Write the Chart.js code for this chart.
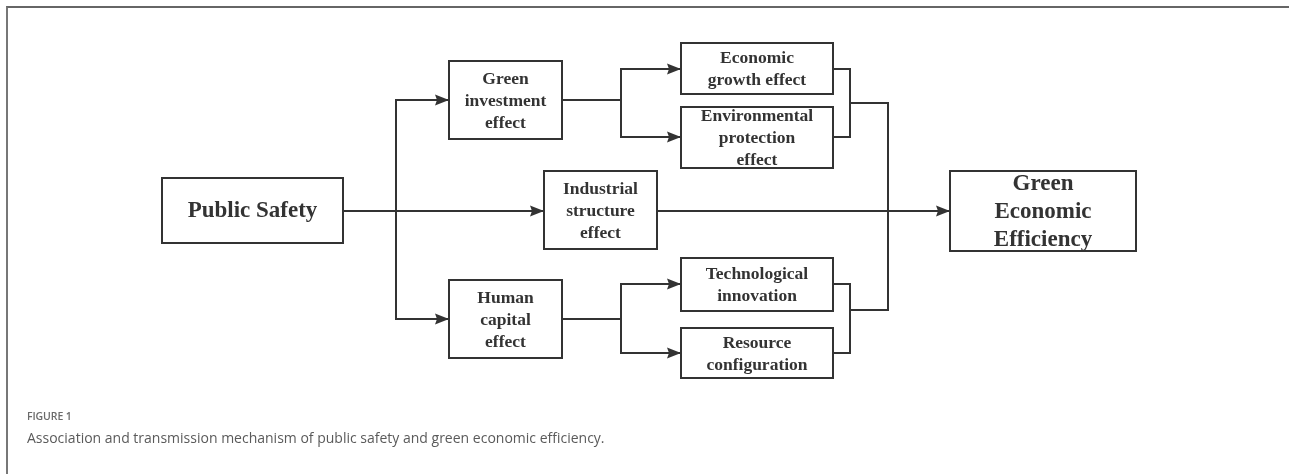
<!DOCTYPE html>
<html>
<head>
<meta charset="utf-8">
<script src="https://cdn.jsdelivr.net/npm/chart.js@4/dist/chart.umd.min.js"></script>
<style>
  html,body{margin:0;padding:0;background:#fff;}
  body{width:1289px;height:474px;position:relative;overflow:hidden;}
  #frame{position:absolute;left:6px;top:6px;right:-2px;bottom:-2px;border-top:2px solid #666;border-left:2px solid #777;}
  #c{position:absolute;left:0;top:0;}
  #fig{position:absolute;left:27px;top:409px;font-family:"Open Sans",sans-serif;font-size:10.5px;font-weight:600;color:#6a6a6a;letter-spacing:-0.1px;white-space:nowrap;}
  #cap{position:absolute;left:27px;top:428px;font-family:"Open Sans",sans-serif;font-size:14px;color:#5a5a5a;white-space:nowrap;}
</style>
</head>
<body>
<div id="frame"></div>
<canvas id="c" width="1289" height="474"></canvas>
<div id="fig">FIGURE 1</div>
<div id="cap">Association and transmission mechanism of public safety and green economic efficiency.</div>
<script>
// ---- Diagram data (diagram units on a 1289 x 474 plane) ----
const nodeLabels = [
  ["Public Safety"],
  ["Green", "investment", "effect"],
  ["Industrial", "structure", "effect"],
  ["Human", "capital", "effect"],
  ["Economic", "growth effect"],
  ["Environmental", "protection", "effect"],
  ["Technological", "innovation"],
  ["Resource", "configuration"],
  ["Green", "Economic", "Efficiency"]
];
const nodeLeft   = [162, 449, 544, 449, 681, 681, 681, 681, 950];
const nodeRight  = [343, 562, 657, 562, 833, 833, 833, 833, 1136];
const nodeTop    = [178,  61, 171, 280,  43, 107, 258, 328, 171];
const nodeBottom = [243, 139, 249, 358,  94, 168, 311, 378, 251];
const nodeBig    = [true, false, false, false, false, false, false, false, true];

// connector polylines (x list / y list), and whether they end in an arrow
const edgeX = [
  [343, 544],
  [396, 396, 449],
  [396, 396, 449],
  [562, 621, 621, 681],
  [621, 621, 681],
  [562, 621, 621, 681],
  [621, 621, 681],
  [833, 850, 850, 833],
  [833, 850, 850, 833],
  [850, 888, 888, 850],
  [657, 950]
];
const edgeY = [
  [211, 211],
  [211, 100, 100],
  [211, 319, 319],
  [100, 100, 69, 69],
  [100, 137, 137],
  [319, 319, 284, 284],
  [319, 353, 353],
  [69, 69, 137, 137],
  [284, 284, 353, 353],
  [103, 103, 310, 310],
  [211, 211]
];
const edgeArrow = [true, true, true, true, true, true, true, false, false, false, true];

const INK = '#333333';

const datasets = edgeX.map((xs, i) => ({
  type: 'line',
  data: xs.map((x, k) => ({x: x, y: edgeY[i][k]})),
  borderColor: INK,
  borderWidth: 2,
  pointRadius: 0,
  fill: false,
  tension: 0,
  arrow: edgeArrow[i]
}));

const diagramPlugin = {
  id: 'diagram',
  afterDatasetsDraw(chart) {
    const ctx = chart.ctx;
    const sx = chart.scales.x, sy = chart.scales.y;
    // arrowheads
    chart.data.datasets.forEach(ds => {
      if (!ds.arrow) return;
      const n = ds.data.length;
      const a = ds.data[n - 2], b = ds.data[n - 1];
      const ax = sx.getPixelForValue(a.x), ay = sy.getPixelForValue(a.y);
      const bx = sx.getPixelForValue(b.x), by = sy.getPixelForValue(b.y);
      const ang = Math.atan2(by - ay, bx - ax);
      const L = 14, W = 5.5;
      ctx.save();
      ctx.translate(bx, by);
      ctx.rotate(ang);
      ctx.beginPath();
      ctx.moveTo(0, 0);
      ctx.lineTo(-L, -W);
      ctx.lineTo(-L + 2, 0);
      ctx.lineTo(-L, W);
      ctx.closePath();
      ctx.fillStyle = INK;
      ctx.fill();
      ctx.restore();
    });
    // boxes
    nodeLabels.forEach((lines, i) => {
      const x0 = sx.getPixelForValue(nodeLeft[i]);
      const x1 = sx.getPixelForValue(nodeRight[i]);
      const y0 = sy.getPixelForValue(nodeTop[i]);
      const y1 = sy.getPixelForValue(nodeBottom[i]);
      ctx.save();
      ctx.fillStyle = '#fff';
      ctx.fillRect(x0, y0, x1 - x0, y1 - y0);
      ctx.strokeStyle = INK;
      ctx.lineWidth = 2;
      ctx.strokeRect(x0, y0, x1 - x0, y1 - y0);
      const size = nodeBig[i] ? 23 : 17.5;
      const lh = nodeBig[i] ? 28 : 22;
      ctx.font = 'bold ' + size + 'px "Liberation Serif", "Times New Roman", serif';
      ctx.fillStyle = INK;
      ctx.textAlign = 'center';
      ctx.textBaseline = 'middle';
      const cx = (x0 + x1) / 2, cy = (y0 + y1) / 2;
      lines.forEach((t, k) => {
        ctx.fillText(t, cx, cy + (k - (lines.length - 1) / 2) * lh + 1);
      });
      ctx.restore();
    });
  }
};

new Chart(document.getElementById('c'), {
  type: 'scatter',
  data: { datasets: datasets },
  options: {
    responsive: false,
    animation: false,
    events: [],
    layout: { padding: 0 },
    plugins: { legend: { display: false }, tooltip: { enabled: false } },
    scales: {
      x: { type: 'linear', min: 0, max: 1289, display: false },
      y: { type: 'linear', min: 0, max: 474, reverse: true, display: false }
    }
  },
  plugins: [diagramPlugin]
});
</script>
</body>
</html>
